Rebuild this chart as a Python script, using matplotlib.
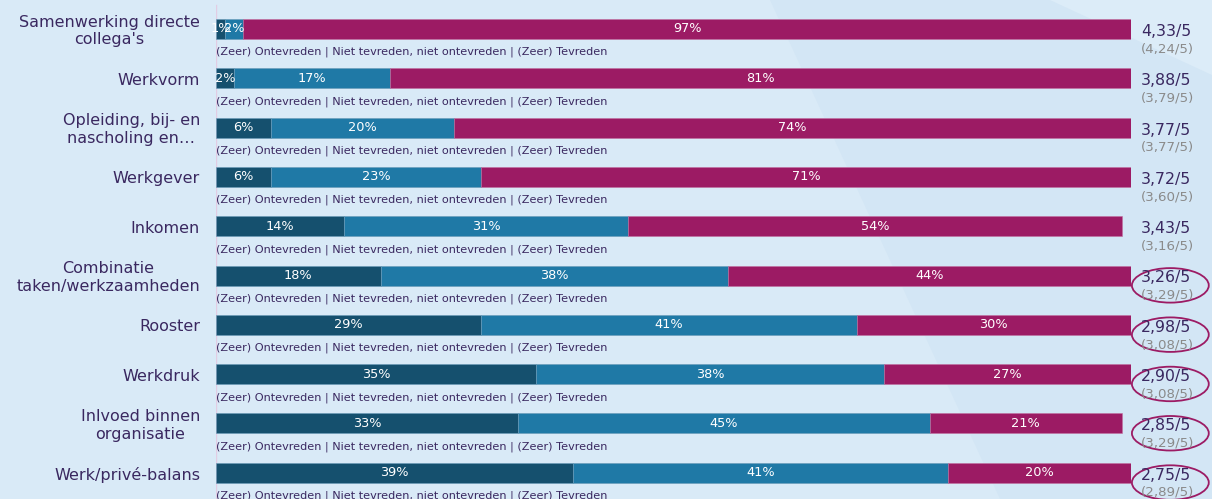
import matplotlib.pyplot as plt
from matplotlib.patches import Ellipse, Polygon
import numpy as np

categories = ["Samenwerking directe\ncollega's", "Werkvorm", "Opleiding, bij- en\nnascholing en…",
              "Werkgever", "Inkomen", "Combinatie\ntaken/werkzaamheden", "Rooster", "Werkdruk",
              "Inlvoed binnen\norganisatie", "Werk/privé-balans"]
ontevreden = [1, 2, 6, 6, 14, 18, 29, 35, 33, 39]
neutraal = [2, 17, 20, 23, 31, 38, 41, 38, 45, 41]
tevreden = [97, 81, 74, 71, 54, 44, 30, 27, 21, 20]
scores = ["4,33/5", "3,88/5", "3,77/5", "3,72/5", "3,43/5", "3,26/5", "2,98/5", "2,90/5", "2,85/5", "2,75/5"]
vorige = ["(4,24/5)", "(3,79/5)", "(3,77/5)", "(3,60/5)", "(3,16/5)", "(3,29/5)", "(3,08/5)", "(3,08/5)", "(3,29/5)", "(2,89/5)"]
omcirkeld = [False, False, False, False, False, True, True, True, True, True]
legend_text = "(Zeer) Ontevreden | Niet tevreden, niet ontevreden | (Zeer) Tevreden"

c_dark = "#15506e"
c_mid = "#1f79a6"
c_mag = "#9c1b64"
c_txt = "#3a2860"
c_grey = "#8a8a8a"

W, H = 1212, 499
fig = plt.figure(figsize=(W / 100, H / 100), dpi=100)
fig.patch.set_facecolor("#d3e6f5")

# lichtere achtergrondvlakken
fig.patches.append(Polygon([(0, 1), (770 / W, 1), (1000 / W, 0), (0, 0)], closed=True,
                           transform=fig.transFigure, facecolor="#d9eaf7", edgecolor="none", zorder=-10))
fig.patches.append(Polygon([(1050 / W, 1), (1, 1), (1, 0.85)], closed=True,
                           transform=fig.transFigure, facecolor="#dcecf8", edgecolor="none", zorder=-10))

x0, x1 = 216, 1131
ax = fig.add_axes([x0 / W, 0, (x1 - x0) / W, 1])
ax.set_facecolor("none")
row0, step = 29, 49.3
ax.set_xlim(0, 100)
ax.set_ylim((H - row0) / step, -row0 / step)
ax.axis("off")

y = np.arange(len(categories))
bh = 20 / step
b1 = ax.barh(y, ontevreden, height=bh, color=c_dark, edgecolor="#6a9bb8", linewidth=0.4)
b2 = ax.barh(y, neutraal, left=ontevreden, height=bh, color=c_mid, edgecolor="#6a9bb8", linewidth=0.4)
left3 = np.array(ontevreden) + np.array(neutraal)
b3 = ax.barh(y, tevreden, left=left3, height=bh, color=c_mag, edgecolor="#c070a0", linewidth=0.4)

for bars, vals in ((b1, ontevreden), (b2, neutraal), (b3, tevreden)):
    ax.bar_label(bars, labels=[f"{v}%" for v in vals], label_type="center",
                 color="white", fontsize=9.3)

ax.axvline(0, ymin=0, ymax=0.99, color="#e2cce3", linewidth=1, zorder=0)

for i, cat in enumerate(categories):
    ax.text(-1.75, i + 0.04, cat, ha="right", va="center", multialignment="center",
            fontsize=11.5, color=c_txt, clip_on=False)
    ax.text(0, i + 0.47, legend_text, ha="left", va="center", fontsize=8.1,
            color=c_txt, clip_on=False)
    ax.text(101.1, i + 0.05, scores[i], ha="left", va="center", fontsize=11.3,
            color=c_txt, clip_on=False)
    ax.text(101.1, i + 0.4, vorige[i], ha="left", va="center", fontsize=9.6,
            color=c_grey, clip_on=False)
    if omcirkeld[i]:
        ax.add_patch(Ellipse((104.3, i + 0.2), 8.4, 0.7, fill=False,
                             edgecolor=c_mag, linewidth=1.3, clip_on=False))

fig.savefig("out.png", dpi=100, facecolor=fig.get_facecolor())
